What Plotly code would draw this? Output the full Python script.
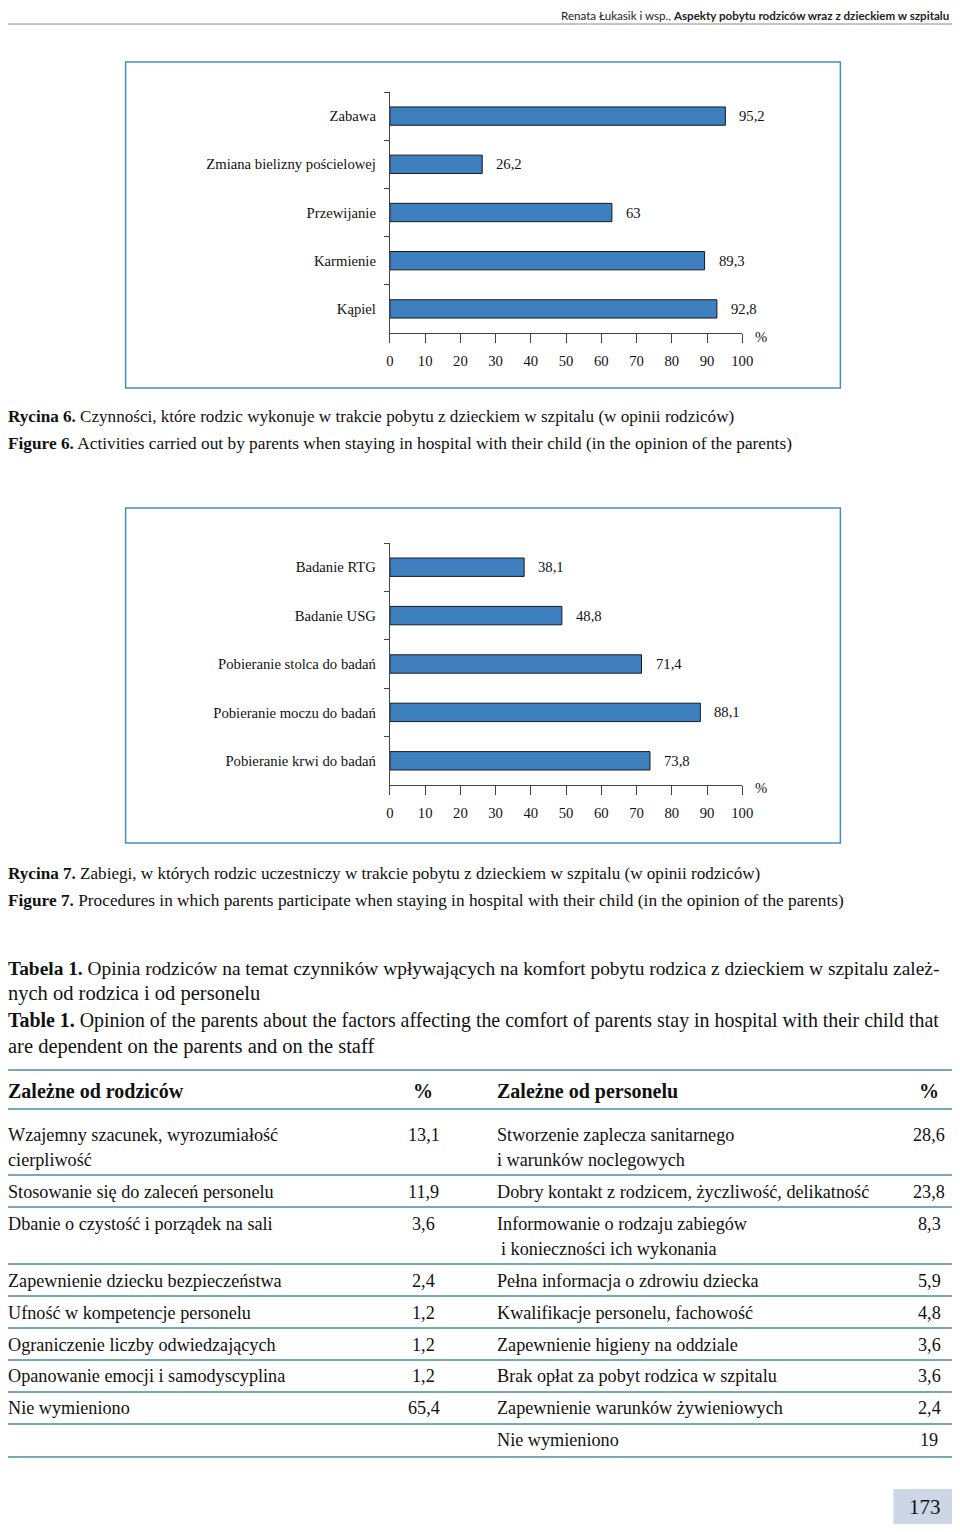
import plotly.graph_objects as go

# figure size chosen so that, inside the 960x1532 page (8px body margin), nothing overflows
W, H = 944, 1516

# ---------------- data ----------------
fig6_categories = ["Zabawa", "Zmiana bielizny pościelowej", "Przewijanie", "Karmienie", "Kąpiel"]
fig6_values = [95.2, 26.2, 63, 89.3, 92.8]

fig7_categories = ["Badanie RTG", "Badanie USG", "Pobieranie stolca do badań",
                   "Pobieranie moczu do badań", "Pobieranie krwi do badań"]
fig7_values = [38.1, 48.8, 71.4, 88.1, 73.8]

x_tick_values = [0, 10, 20, 30, 40, 50, 60, 70, 80, 90, 100]

left_items = ["Wzajemny szacunek, wyrozumiałość\ncierpliwość",
              "Stosowanie się do zaleceń personelu",
              "Dbanie o czystość i porządek na sali",
              "Zapewnienie dziecku bezpieczeństwa",
              "Ufność w kompetencje personelu",
              "Ograniczenie liczby odwiedzających",
              "Opanowanie emocji i samodyscyplina",
              "Nie wymieniono"]
left_values = ["13,1", "11,9", "3,6", "2,4", "1,2", "1,2", "1,2", "65,4"]

right_items = ["Stworzenie zaplecza sanitarnego\ni warunków noclegowych",
               "Dobry kontakt z rodzicem, życzliwość, delikatność",
               "Informowanie o rodzaju zabiegów\n i konieczności ich wykonania",
               "Pełna informacja o zdrowiu dziecka",
               "Kwalifikacje personelu, fachowość",
               "Zapewnienie higieny na oddziale",
               "Brak opłat za pobyt rodzica w szpitalu",
               "Zapewnienie warunków żywieniowych",
               "Nie wymieniono"]
right_values = ["28,6", "23,8", "8,3", "5,9", "4,8", "3,6", "3,6", "2,4", "19"]

# ---------------- layout helpers (page pixel -> paper), calibrated ----------------
X0, XSPAN = 12.5, W - 16
Y0 = 8

def px(x):
    return (x - X0) / XSPAN

def py(y):
    return 1 - (y - Y0) / H

SERIF = "Liberation Serif, Times New Roman, serif"
BAR_COLOR = "#3d7fbf"
BOX_COLOR = "#4a8cc4"
RULE_COLOR = "#4f8aa8"

fig = go.Figure()

def fmt(v):
    return str(v).replace(".", ",")

for cats, vals, xa, ya in [(fig6_categories, fig6_values, "x", "y"),
                           (fig7_categories, fig7_values, "x2", "y2")]:
    fig.add_trace(go.Bar(x=vals, y=cats, orientation="h",
                         marker=dict(color=BAR_COLOR, line=dict(color="#1a1a1a", width=1)),
                         xaxis=xa, yaxis=ya, hoverinfo="skip"))

annotations = []

def note(x, y, text, size, xanchor="left", family=SERIF, color="#111"):
    annotations.append(dict(x=px(x), y=py(y), xref="paper", yref="paper", text=text,
                            showarrow=False, xanchor=xanchor, yanchor="middle",
                            font=dict(family=family, size=size, color=color)))

for cats, vals, xr, yr in [(fig6_categories, fig6_values, "x", "y"),
                           (fig7_categories, fig7_values, "x2", "y2")]:
    for c, v in zip(cats, vals):
        annotations.append(dict(x=v, y=c, xref=xr, yref=yr, text=fmt(v), showarrow=False,
                                xanchor="left", yanchor="middle", xshift=12,
                                font=dict(family=SERIF, size=14.7, color="#111")))

axis_common_x = dict(range=[0, 100], tickvals=x_tick_values, ticks="outside", ticklen=9,
                     tickcolor="#444", showline=True, linecolor="#444", linewidth=1,
                     showgrid=False, zeroline=False, ticklabelstandoff=5,
                     tickfont=dict(family=SERIF, size=14.7, color="#111"), fixedrange=True)
axis_common_y = dict(type="category", autorange="reversed", ticks="outside", ticklen=5,
                     tickson="boundaries", tickcolor="#444", showline=True, linecolor="#444",
                     linewidth=1, showgrid=False, ticklabelstandoff=10,
                     tickfont=dict(family=SERIF, size=14.7, color="#111"), fixedrange=True)

shapes = []

def rect(x0, y0, x1, y1, **kw):
    shapes.append(dict(type="rect", xref="paper", yref="paper", x0=px(x0), x1=px(x1),
                       y0=py(y1), y1=py(y0), **kw))

def hline(x0, x1, y, color, width):
    shapes.append(dict(type="line", xref="paper", yref="paper", x0=px(x0), x1=px(x1),
                       y0=py(y), y1=py(y), line=dict(color=color, width=width)))

# chart frames
rect(126, 62, 840, 388, line=dict(color=BOX_COLOR, width=1.5))
rect(126, 508, 840, 843, line=dict(color=BOX_COLOR, width=1.5))

# % labels
note(761, 337, "%", 14.7, xanchor="center")
note(761, 788, "%", 14.7, xanchor="center")

# header
hline(0, 960, 24, "#8a8a8a", 1)
note(950, 16, "Renata Łukasik i wsp., <b>Aspekty pobytu rodziców wraz z dzieckiem w szpitalu</b>",
     11.6, xanchor="right", family="Lato, Open Sans, sans-serif", color="#222")

# captions
note(7, 416, "<b>Rycina 6.</b> Czynności, które rodzic wykonuje w trakcie pobytu z dzieckiem w szpitalu (w opinii rodziców)", 17.1)
note(7, 443, "<b>Figure 6.</b> Activities carried out by parents when staying in hospital with their child (in the opinion of the parents)", 17.3)
note(7, 873, "<b>Rycina 7.</b> Zabiegi, w których rodzic uczestniczy w trakcie pobytu z dzieckiem w szpitalu (w opinii rodziców)", 17.1)
note(7, 900, "<b>Figure 7.</b> Procedures in which parents participate when staying in hospital with their child (in the opinion of the parents)", 17.3)

# table title
note(7, 968, "<b>Tabela 1.</b> Opinia rodziców na temat czynników wpływających na komfort pobytu rodzica z dzieckiem w szpitalu zależ-", 19.4)
note(7, 993, "nych od rodzica i od personelu", 20.5)
note(7, 1020, "<b>Table 1.</b> Opinion of the parents about the factors affecting the comfort of parents stay in hospital with their child that", 19.9)
note(7, 1046, "are dependent on the parents and on the staff", 20.5)

# table rules
for yy in [1070, 1109, 1175, 1207, 1264, 1296, 1328, 1360, 1392, 1424, 1457]:
    hline(7, 958, yy, RULE_COLOR, 1.6)

# headers
note(7, 1091, "<b>Zależne od rodziców</b>", 20)
note(423, 1091, "<b>%</b>", 20, xanchor="center")
note(495, 1091, "<b>Zależne od personelu</b>", 20)
note(929, 1091, "<b>%</b>", 20, xanchor="center")

left_rows_y = [1135, 1192, 1224, 1281, 1313, 1345, 1376, 1408]
right_rows_y = [1135, 1192, 1224, 1281, 1313, 1345, 1376, 1408, 1440]
TSIZE = 18.2

def add_column(items, values, rows_y, x_text, x_val):
    for item, val, yy in zip(items, values, rows_y):
        for i, line in enumerate(item.split("\n")):
            indent = 4 if line.startswith(" ") else 0
            note(x_text + indent, yy + 25 * i, line.strip(), TSIZE)
        note(x_val, yy, val, TSIZE, xanchor="center")

add_column(left_items, left_values, left_rows_y, 7, 424)
add_column(right_items, right_values, right_rows_y, 495, 929)

# page number box
rect(893, 1489, 958, 1525, fillcolor="#cdd6e6", line=dict(width=0), layer="below")
note(925, 1507, "173", 21, xanchor="center")

fig.update_layout(
    width=W, height=H, autosize=False,
    margin=dict(l=0, r=0, t=0, b=0),
    paper_bgcolor="white", plot_bgcolor="rgba(0,0,0,0)",
    showlegend=False, bargap=0.62,
    xaxis=dict(domain=[px(390), px(742)], anchor="y", **axis_common_x),
    yaxis=dict(domain=[py(333), py(92)], anchor="x", **axis_common_y),
    xaxis2=dict(domain=[px(390), px(742)], anchor="y2", **axis_common_x),
    yaxis2=dict(domain=[py(785), py(543)], anchor="x2", **axis_common_y),
    shapes=shapes, annotations=annotations,
)

fig.write_html("out.html", config={"displayModeBar": False})
